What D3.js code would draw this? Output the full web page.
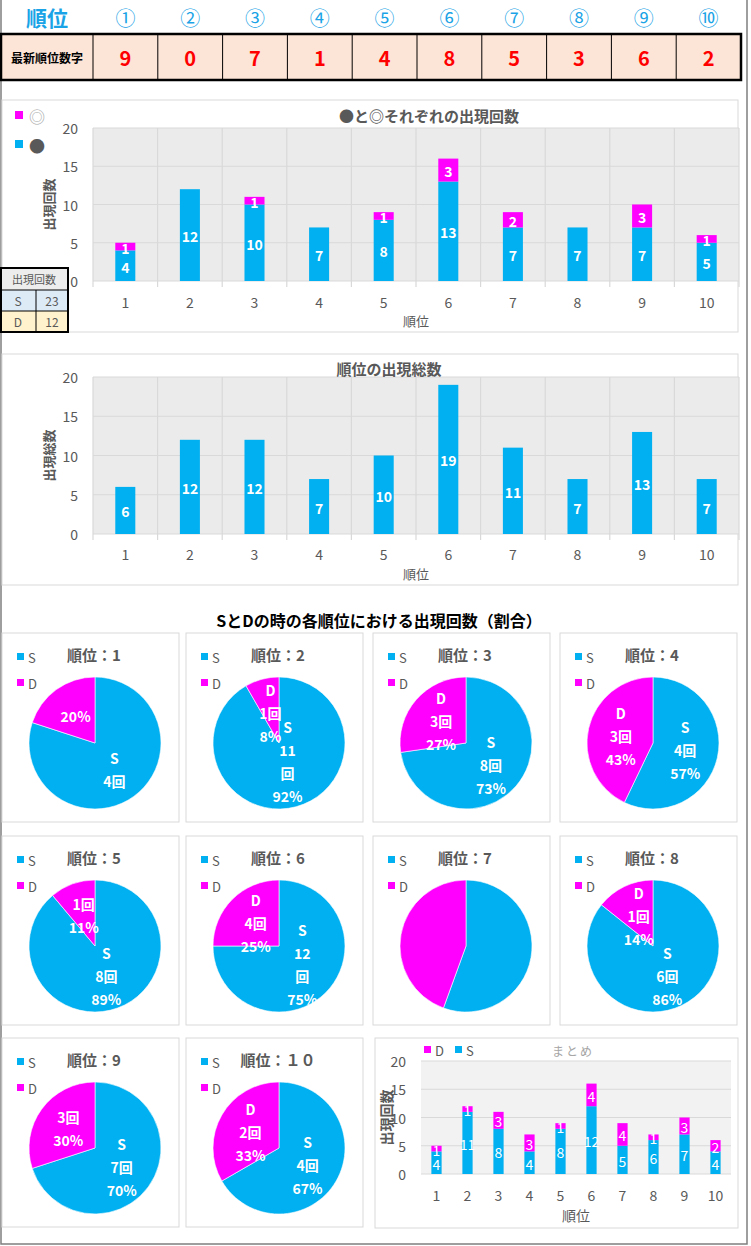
<!DOCTYPE html>
<html>
<head>
<meta charset="utf-8">
<script src="https://cdn.jsdelivr.net/npm/d3@7"></script>
<style>
body{margin:0;background:#fff}
text{font-family:"Noto Sans CJK JP","Noto Sans",sans-serif}
</style>
</head>
<body>
<svg id="c" width="751" height="1246"></svg>
<script>
var ranks = [1,2,3,4,5,6,7,8,9,10]
var circled = ['①','②','③','④','⑤','⑥','⑦','⑧','⑨','⑩']
var latestDigits = [9,0,7,1,4,8,5,3,6,2]

// ● と ◎
var blackCounts = [4,12,10,7,8,13,7,7,7,5]
var doubleCounts = [1,0,1,0,1,3,2,0,3,1]
// 出現総数
var totalCounts = [6,12,12,7,10,19,11,7,13,7]
// S / D
var sCounts = [4,11,8,4,8,12,5,6,7,4]
var dCounts = [1,1,3,3,1,4,4,1,3,2]
var sdTotals = [['S',23],['D',12]]
var yTicks = [0,5,10,15,20]
var pieTitles = ['順位：1','順位：2','順位：3','順位：4','順位：5','順位：6','順位：7','順位：8','順位：9','順位：１０']
// n=name c=count p=percent
var sLabelParts = ['nc','ncp','ncp','ncp','ncp','ncp','','ncp','ncp','ncp']
var dLabelParts = ['p','ncp','ncp','ncp','cp','ncp','','ncp','cp','ncp']

var BLUE = '#00b0f0', PINK = '#ff00ff', GRAY = '#595959'
var svg = d3.select('#c')

// frame
svg.append('path').attr('d','M1,0V1244H747V0').attr('fill','none').attr('stroke','#7f7f7f').attr('stroke-width',1.5)

// ---- header table
var colX = d3.scaleBand().domain(ranks).range([93,741])

svg.append('text').attr('x',47).attr('y',17).attr('text-anchor','middle').attr('dominant-baseline','central')
    .attr('font-size',21).attr('font-weight','bold').attr('fill','#1aa3e6').text('順位')
svg.selectAll('.circ').data(ranks).enter().append('text')
    .attr('x',function(d){return colX(d)+colX.bandwidth()/2}).attr('y',17)
    .attr('text-anchor','middle').attr('dominant-baseline','central')
    .attr('font-size',20).attr('fill','#1aa3e6').text(function(d,i){return circled[i]})

svg.append('rect').attr('x',1).attr('y',34).attr('width',740).attr('height',46).attr('fill','#fce4d6')
svg.selectAll('.vl').data(ranks).enter().append('line')
    .attr('x1',function(d){return colX(d)}).attr('x2',function(d){return colX(d)})
    .attr('y1',34).attr('y2',80).attr('stroke','#000').attr('stroke-width',1)
svg.append('rect').attr('x',1).attr('y',34).attr('width',740).attr('height',46).attr('fill','none').attr('stroke','#000').attr('stroke-width',2.5)
svg.append('text').attr('x',47).attr('y',57).attr('text-anchor','middle').attr('dominant-baseline','central')
    .attr('font-size',12).attr('font-weight','bold').attr('fill','#000').text('最新順位数字')
svg.selectAll('.dg').data(latestDigits).enter().append('text')
    .attr('x',function(d,i){return colX(ranks[i])+colX.bandwidth()/2}).attr('y',57)
    .attr('text-anchor','middle').attr('dominant-baseline','central')
    .attr('font-size',20).attr('font-weight','bold').attr('fill','#ff0000').text(function(d){return d})

// ---- stacked bar chart helper
function barChart(o) {
    var g = svg.append('g')
    g.append('rect').attr('x',o.box[0]).attr('y',o.box[1]).attr('width',o.box[2]).attr('height',o.box[3])
        .attr('fill','#fff').attr('stroke','#d9d9d9')
    var x = d3.scaleBand().domain(ranks).range([o.left,o.right])
    var y = d3.scaleLinear().domain([0,20]).range([o.bottom,o.top])
    g.append('rect').attr('x',o.left).attr('y',o.top).attr('width',o.right-o.left).attr('height',o.bottom-o.top).attr('fill',o.bg)
    g.selectAll('.hg').data(yTicks).enter().append('line')
        .attr('x1',o.left).attr('x2',o.right).attr('y1',function(d){return y(d)}).attr('y2',function(d){return y(d)})
        .attr('stroke',o.grid).attr('stroke-width',1.2)
    if (o.vgrid) {
        var bounds = ranks.map(function(d){return x(d)}).concat([o.right])
        g.selectAll('.vg').data(bounds).enter().append('line')
            .attr('x1',function(d){return d}).attr('x2',function(d){return d})
            .attr('y1',o.top).attr('y2',o.bottom+6).attr('stroke',o.grid).attr('stroke-width',1.2)
    }
    g.selectAll('.yt').data(yTicks).enter().append('text')
        .attr('x',o.left-15).attr('y',function(d){return y(d)}).attr('text-anchor','end').attr('dominant-baseline','central')
        .attr('font-size',o.tickSize).attr('fill',GRAY).text(function(d){return d})
    g.selectAll('.xt').data(ranks).enter().append('text')
        .attr('x',function(d){return x(d)+x.bandwidth()/2}).attr('y',o.bottom+o.xTickGap)
        .attr('text-anchor','middle').attr('dominant-baseline','central')
        .attr('font-size',o.tickSize).attr('fill',GRAY).text(function(d){return d})
    g.append('text').attr('x',(o.left+o.right)/2).attr('y',o.xTitleY).attr('text-anchor','middle').attr('dominant-baseline','central')
        .attr('font-size',o.titleSize).attr('fill',GRAY).text('順位')
    g.append('text').attr('transform','translate('+o.yTitleX+','+((o.top+o.bottom)/2)+') rotate(-90)')
        .attr('text-anchor','middle').attr('dominant-baseline','central')
        .attr('font-size',o.titleSize).attr('font-weight','bold').attr('fill',GRAY).text(o.yTitle)

    var bw = x.bandwidth()*o.barFrac
    o.series.forEach(function(s, si) {
        ranks.forEach(function(r, i) {
            var base = 0
            for (var k=0;k<si;k++) base += o.series[k].values[i]
            var v = s.values[i]
            if (!v) return
            var cx = x(r)+x.bandwidth()/2
            g.append('rect').attr('x',cx-bw/2).attr('y',y(base+v)).attr('width',bw).attr('height',y(base)-y(base+v)).attr('fill',s.color)
            g.append('text').attr('x',cx).attr('y',(y(base)+y(base+v))/2+1)
                .attr('text-anchor','middle').attr('dominant-baseline','central')
                .attr('font-size',o.labelSize).attr('font-weight',o.labelBold ? 'bold' : 'normal').attr('fill','#fff').text(v)
        })
    })
    return g
}

// chart 1
var c1 = barChart({box:[2,100,736,232], left:93, right:739, top:128, bottom:281, bg:'#ebebeb', grid:'#d9d9d9', vgrid:true,
    tickSize:14, xTickGap:21, xTitleY:320, titleSize:13, yTitleX:48, yTitle:'出現回数', barFrac:0.31,
    labelSize:14, labelBold:true,
    series:[{values:blackCounts,color:BLUE},{values:doubleCounts,color:PINK}]})
c1.append('text').attr('x',429).attr('y',115).attr('text-anchor','middle').attr('dominant-baseline','central')
    .attr('font-size',15).attr('font-weight','bold').attr('fill',GRAY).text('●と◎それぞれの出現回数')
var leg1 = [['◎',PINK,'#a6a6a6'],['●',BLUE,GRAY]]
leg1.forEach(function(d,i){
    c1.append('rect').attr('x',15).attr('y',111+i*29).attr('width',8).attr('height',8).attr('fill',d[1])
    c1.append('text').attr('x',29).attr('y',116+i*29).attr('dominant-baseline','central').attr('font-size',16).attr('fill',d[2]).text(d[0])
})

// S/D totals table
var tb = svg.append('g')
tb.append('rect').attr('x',1).attr('y',268).attr('width',67).attr('height',22).attr('fill','#ededed')
tb.append('text').attr('x',34).attr('y',279).attr('text-anchor','middle').attr('dominant-baseline','central').attr('font-size',11).attr('fill',GRAY).text('出現回数')
sdTotals.forEach(function(d,i){
    var yy = 290+i*21
    tb.append('rect').attr('x',1).attr('y',yy).attr('width',67).attr('height',21).attr('fill',i==0 ? '#ddebf7' : '#fff2cc')
    tb.append('line').attr('x1',1).attr('x2',68).attr('y1',yy).attr('y2',yy).attr('stroke','#000').attr('stroke-width',1)
    tb.append('text').attr('x',18).attr('y',yy+10.5).attr('text-anchor','middle').attr('dominant-baseline','central').attr('font-size',12).attr('fill',GRAY).text(d[0])
    tb.append('text').attr('x',52).attr('y',yy+10.5).attr('text-anchor','middle').attr('dominant-baseline','central').attr('font-size',12).attr('fill',GRAY).text(d[1])
})
tb.append('line').attr('x1',36).attr('x2',36).attr('y1',290).attr('y2',332).attr('stroke','#000').attr('stroke-width',1)
tb.append('rect').attr('x',1).attr('y',268).attr('width',67).attr('height',64).attr('fill','none').attr('stroke','#000').attr('stroke-width',2)

// chart 2
var c2 = barChart({box:[2,354,736,231], left:93, right:739, top:377, bottom:534, bg:'#ebebeb', grid:'#d9d9d9', vgrid:true,
    tickSize:14, xTickGap:20, xTitleY:573, titleSize:13, yTitleX:48, yTitle:'出現総数', barFrac:0.31,
    labelSize:14, labelBold:true,
    series:[{values:totalCounts,color:BLUE}]})
c2.append('text').attr('x',389).attr('y',368).attr('text-anchor','middle').attr('dominant-baseline','central')
    .attr('font-size',15).attr('font-weight','bold').attr('fill',GRAY).text('順位の出現総数')

svg.append('text').attr('x',379).attr('y',620).attr('text-anchor','middle').attr('dominant-baseline','central')
    .attr('font-size',16).attr('font-weight','bold').attr('fill','#000').text('SとDの時の各順位における出現回数（割合）')

// ---- pies
var cellX = [2,186,373,560], cellY = [633,836,1038]
var R = 66
var pie = d3.pie().sort(null)
var arc = d3.arc().innerRadius(0).outerRadius(R)
var defs = svg.append('defs')

ranks.forEach(function(r, i) {
    var x0 = cellX[i%4], y0 = cellY[Math.floor(i/4)]
    var g = svg.append('g').attr('transform','translate('+x0+','+y0+')')
    g.append('rect').attr('x',0).attr('y',0).attr('width',177).attr('height',189).attr('fill','#fff').attr('stroke','#d9d9d9')
    g.append('text').attr('x',92).attr('y',21).attr('text-anchor','middle').attr('dominant-baseline','central')
        .attr('font-size',15).attr('font-weight','bold').attr('fill',GRAY).text(pieTitles[i])
    ;[['S',BLUE],['D',PINK]].forEach(function(d,k){
        g.append('rect').attr('x',15).attr('y',20+k*26).attr('width',7).attr('height',7).attr('fill',d[1])
        g.append('text').attr('x',26).attr('y',24+k*26).attr('dominant-baseline','central').attr('font-size',13).attr('fill',GRAY).text(d[0])
    })
    var vals = [sCounts[i], dCounts[i]]
    var tot = vals[0]+vals[1]
    var pg = g.append('g').attr('transform','translate(93,110)')
    var arcs = pie(vals)
    pg.selectAll('path').data(arcs).enter().append('path').attr('d',arc)
        .attr('fill',function(d,k){return k==0 ? BLUE : PINK}).attr('stroke','#fff').attr('stroke-width',0.6)

    defs.append('clipPath').attr('id','pc'+i).append('rect').attr('x',-R).attr('y',-R).attr('width',2*R).attr('height',2*R)
    var lg = pg.append('g').attr('clip-path','url(#pc'+i+')')
    var parts = [sLabelParts[i], dLabelParts[i]], names = ['S','D']
    arcs.forEach(function(a,k){
        var lines = []
        var p = parts[k]
        if (p.indexOf('n')>=0) lines.push(names[k])
        if (p.indexOf('c')>=0) {
            if (vals[k] >= 10) { lines.push(String(vals[k])); lines.push('回') }
            else lines.push(vals[k]+'回')
        }
        if (p.indexOf('p')>=0) lines.push(Math.round(vals[k]/tot*100)+'%')
        if (!lines.length) return
        var c = arc.centroid(a)
        var lh = 23
        // keep tall blocks inside the pie box
        var half = (lines.length-1)/2*lh + 7
        var cy = Math.max(-R+6+half, Math.min(R-6-half, c[1]))
        lines.forEach(function(t,j){
            lg.append('text').attr('x',c[0]).attr('y',cy+(j-(lines.length-1)/2)*lh)
                .attr('text-anchor','middle').attr('dominant-baseline','central')
                .attr('font-size',14).attr('font-weight','bold').attr('fill','#fff').text(t)
        })
    })
})

// ---- summary
var c3 = barChart({box:[375,1038,363,190], left:421, right:731, top:1061, bottom:1174, bg:'#f2f2f2', grid:'#d9d9d9', vgrid:false,
    tickSize:14, xTickGap:21, xTitleY:1215, titleSize:14, yTitleX:386, yTitle:'出現回数', barFrac:0.33,
    labelSize:14, labelBold:false,
    series:[{values:sCounts,color:BLUE},{values:dCounts,color:PINK}]})
c3.append('text').attr('x',573).attr('y',1050).attr('text-anchor','middle').attr('dominant-baseline','central')
    .attr('font-size',12).attr('letter-spacing',2).attr('fill','#a6a6a6').text('まとめ')
;[['D',PINK],['S',BLUE]].forEach(function(d,k){
    c3.append('rect').attr('x',424+k*31).attr('y',1046).attr('width',7).attr('height',7).attr('fill',d[1])
    c3.append('text').attr('x',435+k*31).attr('y',1050).attr('dominant-baseline','central').attr('font-size',13).attr('fill',GRAY).text(d[0])
})
</script>
</body>
</html>
